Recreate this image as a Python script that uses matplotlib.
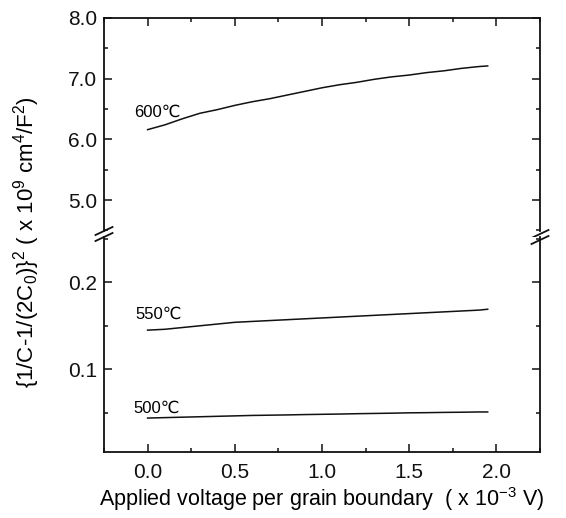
import matplotlib
matplotlib.use("Agg")
import matplotlib.pyplot as plt
from matplotlib.ticker import MultipleLocator, FormatStrFormatter
from matplotlib.lines import Line2D

plt.rcParams['font.family'] = ['Liberation Sans', 'DejaVu Sans']
plt.rcParams['mathtext.fontset'] = 'custom'
plt.rcParams['mathtext.rm'] = 'Liberation Sans'
plt.rcParams['mathtext.it'] = 'Liberation Sans:italic'
plt.rcParams['mathtext.default'] = 'regular'

# ---- data ----
voltage = [0.0, 0.1, 0.2, 0.3, 0.4, 0.5, 0.6, 0.7, 0.8, 0.9, 1.0,
           1.1, 1.2, 1.3, 1.4, 1.5, 1.6, 1.7, 1.8, 1.9, 1.95]
y600 = [6.16, 6.24, 6.34, 6.43, 6.49, 6.56, 6.62, 6.67, 6.73, 6.79, 6.85,
        6.90, 6.94, 6.99, 7.03, 7.06, 7.10, 7.13, 7.17, 7.20, 7.21]
y550 = [0.145, 0.146, 0.148, 0.150, 0.152, 0.154, 0.155, 0.156, 0.157, 0.158, 0.159,
        0.160, 0.161, 0.162, 0.163, 0.164, 0.165, 0.166, 0.167, 0.168, 0.169]
y500 = [0.044, 0.0445, 0.045, 0.0455, 0.046, 0.0465, 0.047, 0.0473, 0.0476, 0.048, 0.0483,
        0.0486, 0.049, 0.0493, 0.0496, 0.050, 0.0502, 0.0505, 0.0507, 0.051, 0.051]
labels = ['600\u2103', '550\u2103', '500\u2103']
xticks = [0.0, 0.5, 1.0, 1.5, 2.0]
top_yticks = [5.0, 6.0, 7.0, 8.0]
bot_yticks = [0.1, 0.2]

W, H = 566, 518
fig = plt.figure(figsize=(W / 100, H / 100), dpi=100)

left = 104 / W
width = (540 - 104) / W
ax_top = fig.add_axes([left, 1 - 231 / H, width, (231 - 18) / H])
ax_bot = fig.add_axes([left, 1 - 452 / H, width, (452 - 237) / H])

lc = '#111111'
for ax in (ax_top, ax_bot):
    ax.set_xlim(-0.25, 2.25)
    ax.xaxis.set_major_locator(MultipleLocator(0.5))
    ax.xaxis.set_minor_locator(MultipleLocator(0.25))
    ax.tick_params(which='both', direction='in', top=True, right=True,
                   width=1.1, colors=lc, labelsize=15)
    ax.tick_params(which='major', length=5.5)
    ax.tick_params(which='minor', length=3)
    for s in ax.spines.values():
        s.set_linewidth(1.3)
        s.set_color(lc)

ax_top.plot(voltage, y600, color=lc, lw=1.1)
ax_bot.plot(voltage, y550, color=lc, lw=1.1)
ax_bot.plot(voltage, y500, color=lc, lw=1.1)

ax_top.set_ylim(4.49, 8.0)
ax_top.set_yticks(top_yticks)
ax_top.yaxis.set_minor_locator(MultipleLocator(0.5))
ax_top.yaxis.set_major_formatter(FormatStrFormatter('%.1f'))
ax_top.spines['bottom'].set_visible(False)
ax_top.tick_params(axis='x', which='both', bottom=False, labelbottom=False)
ax_top.tick_params(axis='y', pad=5)

ax_bot.set_ylim(0.005, 0.252)
ax_bot.set_yticks(bot_yticks)
ax_bot.yaxis.set_minor_locator(MultipleLocator(0.05))
ax_bot.yaxis.set_major_formatter(FormatStrFormatter('%.1f'))
ax_bot.spines['top'].set_visible(False)
ax_bot.tick_params(axis='x', which='both', top=False)
ax_bot.tick_params(axis='x', pad=8)
ax_bot.tick_params(axis='y', pad=5)
ax_bot.set_xticks(xticks)
ax_bot.xaxis.set_major_formatter(FormatStrFormatter('%.1f'))

ax_top.text(-0.08, 6.38, labels[0], fontsize=12, va='baseline', ha='left')
ax_bot.text(-0.07, 0.1586, labels[1], fontsize=12, va='baseline', ha='left')
ax_bot.text(-0.08, 0.0506, labels[2], fontsize=12, va='baseline', ha='left')

ax_bot.set_xlabel(r'Applied voltage per grain boundary  ( x 10$^{-3}$ V)',
                  fontsize=15.5, labelpad=2)
fig.text(27 / W, 1 - 242 / H, r'{1/C-1/(2C$_0$)}$^2$ ( x 10$^9$ cm$^4$/F$^2$)',
         rotation=90, ha='center', va='center', fontsize=16)

# break marks
for ax, yend, shift in ((ax_top, 0.0, 0.0), (ax_bot, 1.0, 0.0)):
    bbox = ax.get_position()
    wpx = bbox.width * W
    hpx = bbox.height * H
    dx = 8.5 / wpx
    dy = 4.0 / hpx
    for xs, extra in ((0.0, 0.0), (1.0, -3.0 / hpx)):
        ax.add_line(Line2D([xs - dx, xs + dx],
                           [yend - dy + extra, yend + dy + extra],
                           transform=ax.transAxes, color=lc, lw=1.3,
                           clip_on=False))

fig.savefig('out.png', dpi=100)
